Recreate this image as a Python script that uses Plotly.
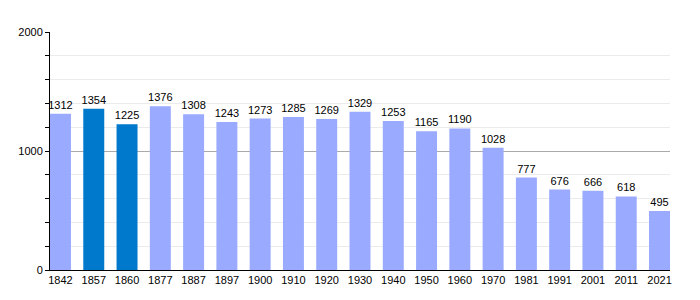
import plotly.graph_objects as go

years = ["1842", "1857", "1860", "1877", "1887", "1897", "1900", "1910", "1920", "1930",
         "1940", "1950", "1960", "1970", "1981", "1991", "2001", "2011", "2021"]
population = [1312, 1354, 1225, 1376, 1308, 1243, 1273, 1285, 1269, 1329,
              1253, 1165, 1190, 1028, 777, 676, 666, 618, 495]
highlight = {"1857", "1860"}

light = "#99aaff"
dark = "#0079cc"
colors = [dark if y in highlight else light for y in years]

fig = go.Figure(go.Bar(
    x=years, y=population,
    marker=dict(color=colors, line=dict(width=0)),
    width=0.63,
    text=[str(v) for v in population],
    textposition="outside",
    constraintext="none",
    textfont=dict(size=11, color="black"),
    cliponaxis=False,
))

fig.update_layout(
    width=700, height=300,
    margin=dict(l=50, r=30, t=32, b=30),
    paper_bgcolor="white", plot_bgcolor="white",
    font=dict(family="Liberation Sans, Arial, sans-serif", size=11, color="black"),
    showlegend=False,
    bargap=0.37,
)
fig.update_xaxes(
    type="category",
    range=[-0.315, 18.315],
    showline=True, linecolor="black", linewidth=1,
    ticks="", showgrid=False,
    tickfont=dict(size=11),
)
fig.update_yaxes(
    range=[0, 2000],
    tickvals=[0, 1000, 2000],
    showline=True, linecolor="black", linewidth=1,
    ticks="outside", ticklen=4, tickcolor="black",
    showgrid=True, gridcolor="#aaaaaa", gridwidth=1,
    zeroline=False,
    minor=dict(dtick=200, ticks="outside", ticklen=4, tickcolor="black",
               showgrid=True, gridcolor="#ebebeb", gridwidth=1),
    tickfont=dict(size=11),
)

fig.write_html("out.html")
